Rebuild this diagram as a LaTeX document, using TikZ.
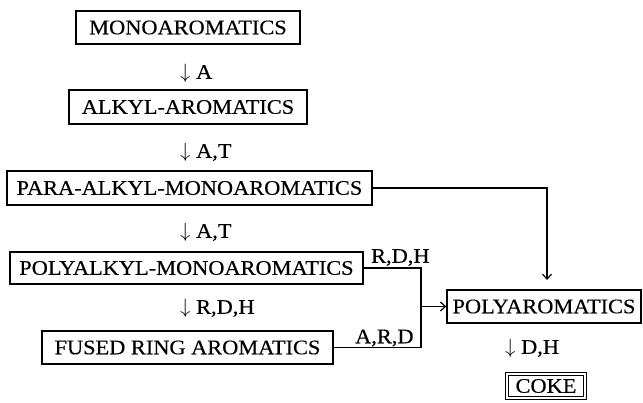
\documentclass[tikz,border=0pt]{standalone}
\usepackage{fontspec}
\setmainfont{Liberation Serif}[FakeStretch=1.08, FakeBold=0.35]
\usetikzlibrary{arrows.meta}

\begin{document}
\begin{tikzpicture}[x=1pt, y=-1pt,
  font=\fontsize{20.7}{22}\selectfont,
  box/.style={draw, line width=1.35pt, inner sep=0pt,
    text height=13.5pt, text depth=0pt, align=center},
  lbl/.style={inner sep=0pt, text height=13.5pt, text depth=0pt, anchor=west},
  link/.style={line width=1.35pt},
  tip/.style={-{Straight Barb[length=5pt,width=9pt,line width=1.2pt]}}]
\useasboundingbox (0,0) rectangle (643,402);

% left column of compound classes
\node[box, minimum width=224pt, minimum height=33pt] (mono)   at (188,27.5)  {MONOAROMATICS};
\node[box, minimum width=238pt, minimum height=34pt] (alkyl)  at (188,107)   {ALKYL-AROMATICS};
\node[box, minimum width=365pt, minimum height=34pt] (para)   at (189.5,188) {PARA-ALKYL-MONOAROMATICS};
\node[box, minimum width=353pt, minimum height=32pt] (polyal) at (186.5,268) {POLYALKYL-MONOAROMATICS};
\node[box, minimum width=291pt, minimum height=33pt] (fused)  at (187.5,347.5) {FUSED RING AROMATICS};

% right column
\node[box, minimum width=194pt, minimum height=33pt] (polyar) at (544,306.5) {POLYAROMATICS};
\node[box, double, double distance=1.8pt, line width=1.2pt,
      minimum width=78pt, minimum height=24pt] (coke) at (546,386) {COKE};

% step labels
\node[lbl] (la)   at (180,72)  {$\downarrow$ A};
\node[lbl] (lat1) at (180,151) {$\downarrow$ A,T};
\node[lbl] (lat2) at (180,231) {$\downarrow$ A,T};
\node[lbl] (lrdh) at (180,307) {$\downarrow$ R,D,H};
\node[lbl] (ldh)  at (505,347) {$\downarrow$ D,H};
\node[lbl] (rdh)  at (371,256) {R,D,H};
\node[lbl] (ard)  at (355,336.5) {A,R,D};

% connectors into POLYAROMATICS
\coordinate (j)   at (421,306.5);
\coordinate (pin) at (547,280);
\draw[link] (polyal.east) -| (j) |- (fused.east);
\draw[link, tip] (j) -- (polyar.west);
\draw[link, tip] (para.east) -| (pin);
\end{tikzpicture}
\end{document}
